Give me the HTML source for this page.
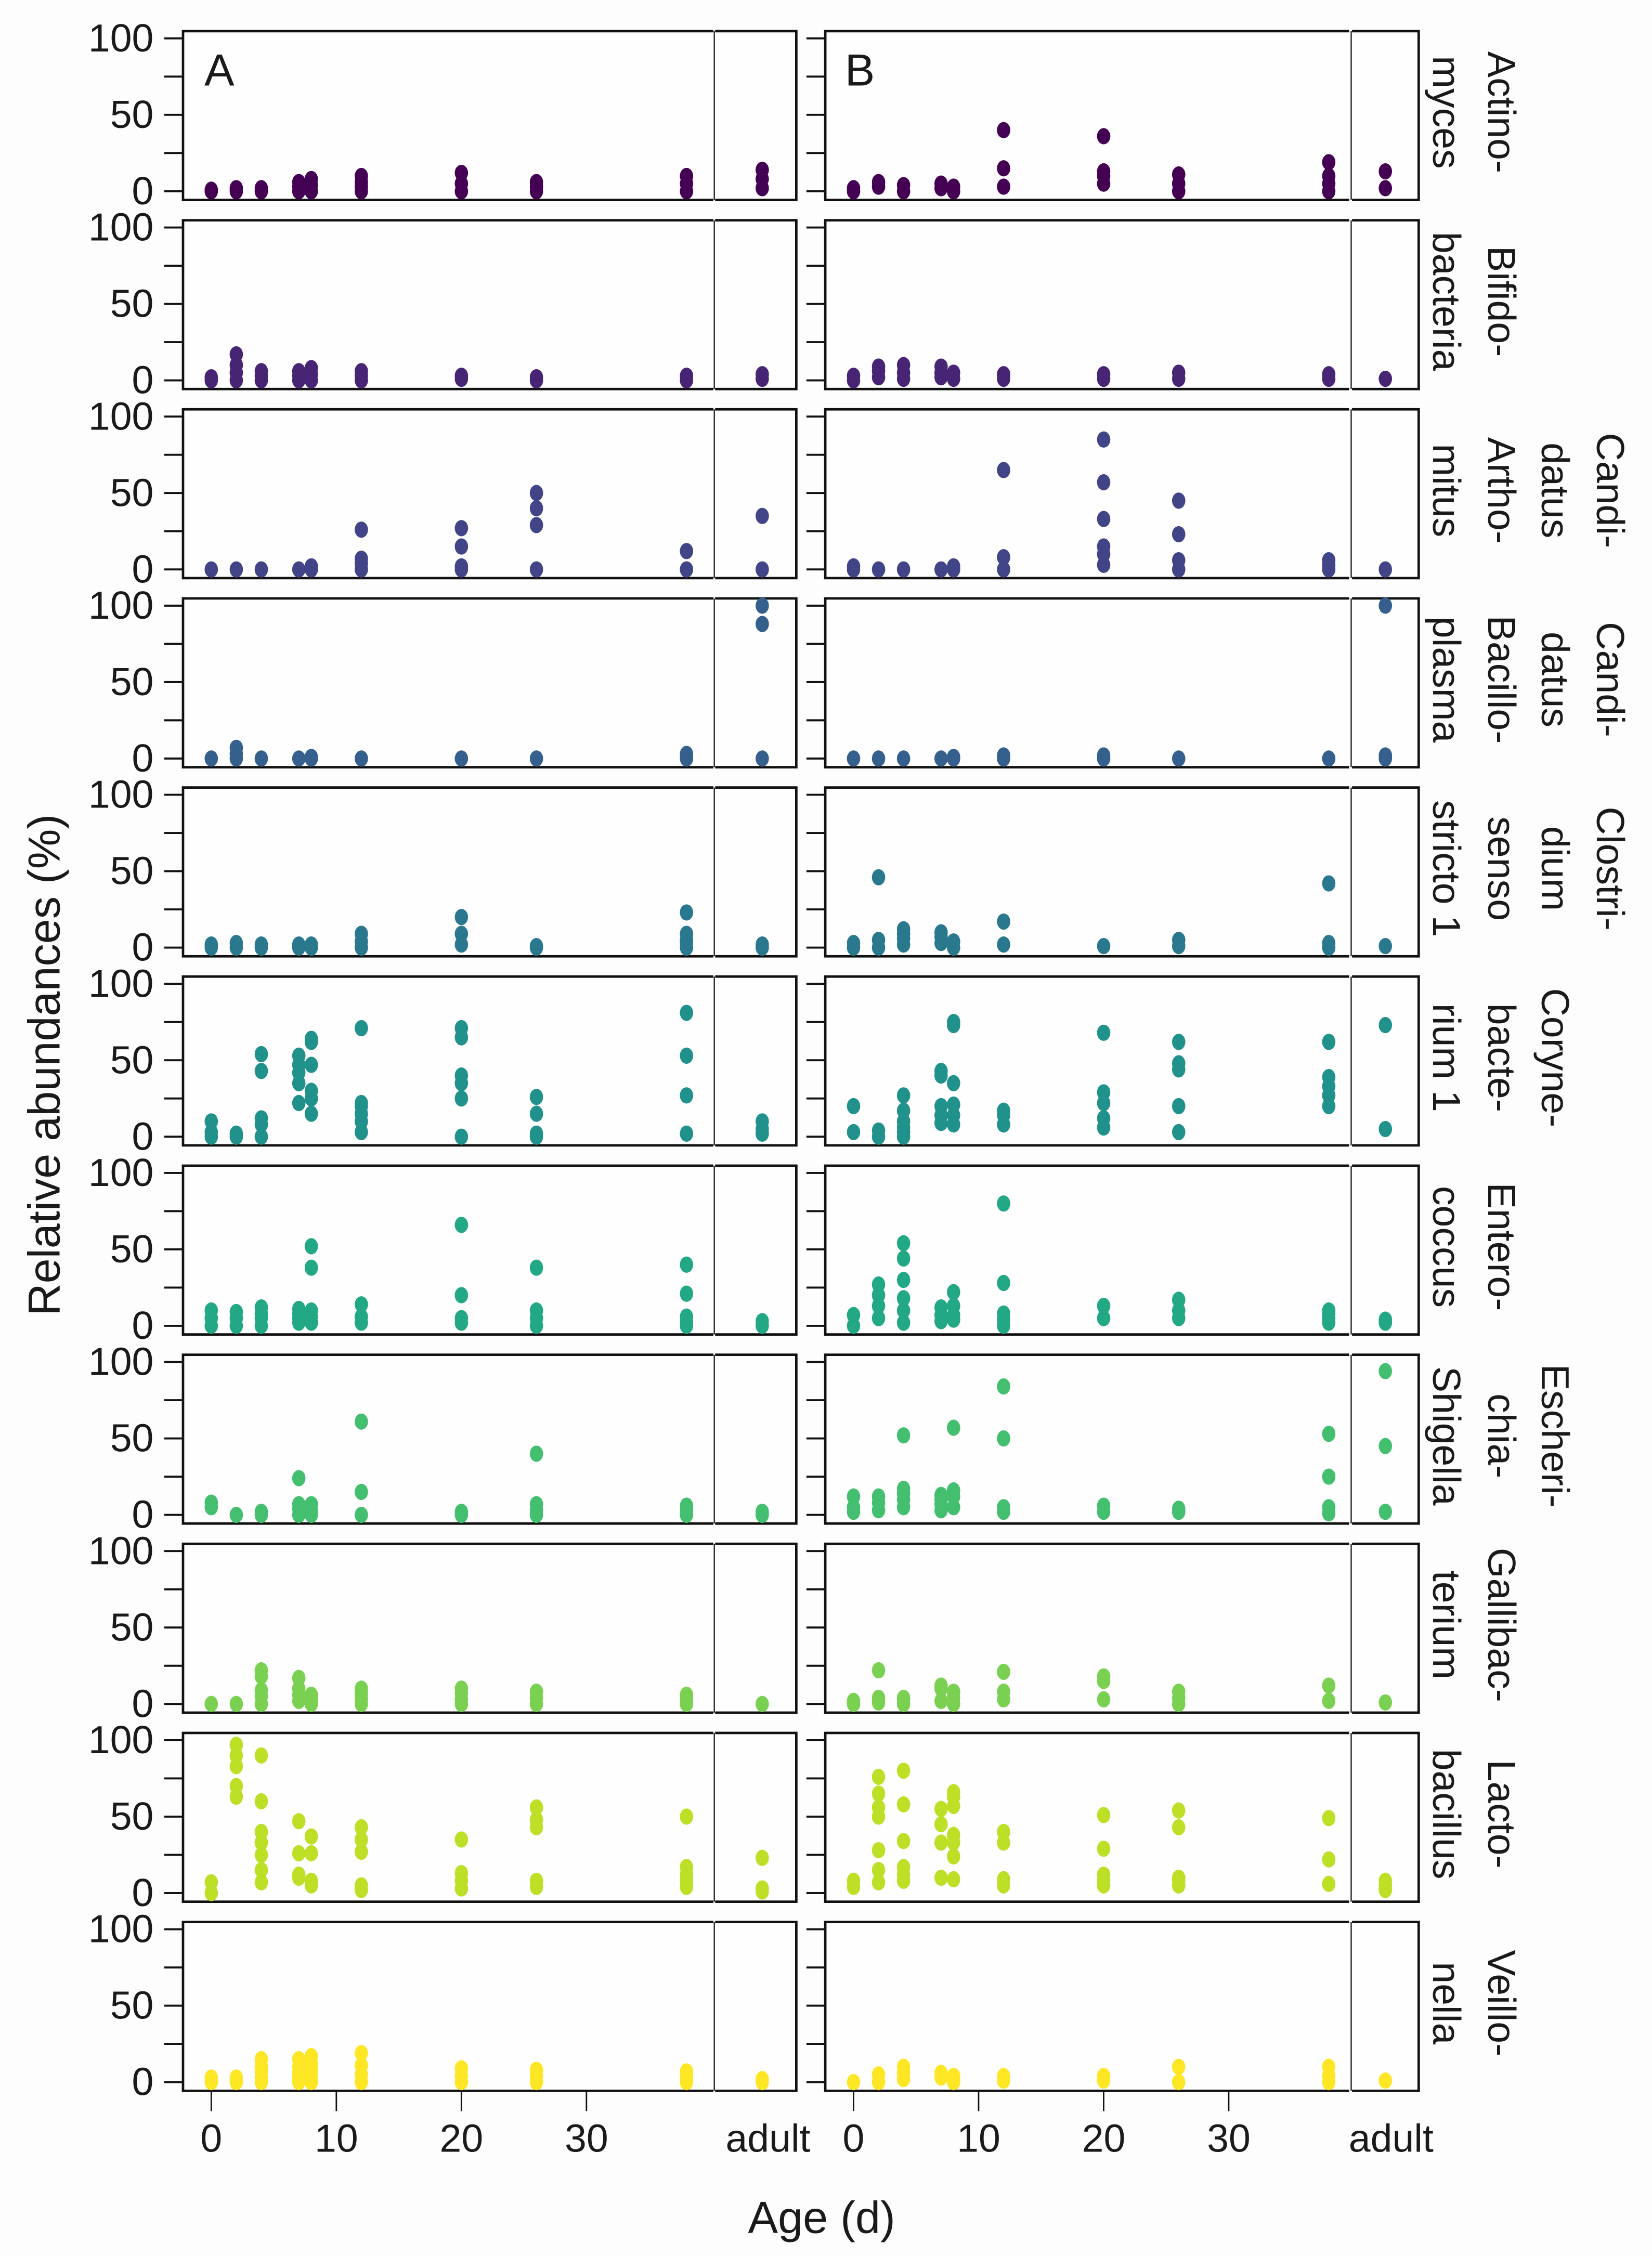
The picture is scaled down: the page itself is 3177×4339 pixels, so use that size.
<!DOCTYPE html>
<html><head><meta charset="utf-8"><title>Relative abundances</title>
<style>
html,body{margin:0;padding:0;background:#fdfdfd;}
svg{display:block;}
text{font-family:"Liberation Sans",sans-serif;fill:#1a1a1a;}
</style></head>
<body>
<svg id="chart" xmlns="http://www.w3.org/2000/svg" width="3177" height="4339" viewBox="0 0 1140 1557" preserveAspectRatio="none">
<rect x="0" y="0" width="1140" height="1557" fill="#fdfdfd"/>
<g id="layer"></g>
</svg>
<script>
// ---- data ----
const dayCats = ["0","2","4","7","8","12","20","26","38","adult"];
const genusNames = ["Actinomyces","Bifidobacteria","Candidatus Arthromitus","Candidatus Bacilloplasma","Clostridium sensu stricto 1","Corynebacterium 1","Enterococcus","Escherichia-Shigella","Gallibacterium","Lactobacillus","Veillonella"];
const genusLabelLines = [
  ["Actino-","myces"],["Bifido-","bacteria"],["Candi-","datus","Artho-","mitus"],
  ["Candi-","datus","Bacillo-","plasma"],["Clostri-","dium","senso","stricto 1"],
  ["Coryne-","bacte-","rium 1"],["Entero-","coccus"],["Escheri-","chia-","Shigella"],
  ["Gallibac-","terium"],["Lacto-","bacillus"],["Veillo-","nella"]];
const genusColors = ["#440154","#482475","#414487","#355f8d","#2a788e","#21918c","#22a884","#44bf70","#7ad151","#bddf26","#fde725"];
const yTicks = [0,50,100];
const yMinorTicks = [25,75];
const xTicks = [0,10,20,30];

// values per day category (same order as dayCats), panel A
const valuesA = [
 [[0,1],[0,2],[0,2],[0,3,6],[0,4,8],[0,3,6,10],[0,5,12],[0,3,6],[0,5,10],[2,8,14]],
 [[0,2],[0,5,10,17],[0,3,6],[0,3,6],[0,4,8],[0,3,6],[1,3],[0,2],[0,3],[1,4]],
 [[0],[0],[0],[0],[0,2],[0,4,7,26],[0,2,15,27],[0,29,40,50],[0,12],[0,35]],
 [[0],[0,3,7],[0],[0],[0,1],[0],[0],[0],[0,3],[0,88,100]],
 [[0,2],[0,3],[0,2],[0,2],[0,2],[0,4,9],[2,9,20],[0,1],[0,3,5,9,23],[0,2]],
 [[0,3,10],[0,2],[0,8,12,43,54],[22,35,42,47,53],[15,25,30,47,62,64],[3,10,15,20,22,71],[0,25,35,40,65,71],[0,2,15,26],[2,27,53,81],[2,5,10]],
 [[0,5,10],[0,5,9],[0,5,8,12],[2,5,8,11],[2,6,10,38,52],[2,6,14],[2,5,20,66],[0,5,10,38],[0,3,6,21,40],[0,3]],
 [[5,8],[0],[0,2],[0,4,7,24],[0,3,7],[0,15,61],[0,2],[0,3,7,40],[0,3,6],[0,2]],
 [[0],[0],[0,5,9,18,22],[2,6,10,17],[0,3,6],[0,3,7,10],[0,3,7,10],[0,4,8],[0,3,6],[0]],
 [[0,7],[63,70,83,90,97],[7,15,25,33,40,60,90],[10,12,26,47],[5,8,26,37],[2,5,27,35,43],[3,8,13,35],[4,8,43,48,56],[4,8,12,17,50],[1,3,23]],
 [[0,3],[0,3],[0,3,7,10,15],[0,3,6,10,15],[0,4,8,12,17],[0,5,11,19],[0,4,9],[0,4,8],[0,3,7],[0,2]]
];
// panel B
const valuesB = [
 [[0,2],[3,6],[0,4],[2,5],[0,3],[3,15,40],[5,10,13,36],[0,5,11],[0,5,10,19],[2,13]],
 [[0,3],[2,6,9],[1,5,10],[2,5,9],[1,5],[1,4],[1,4],[1,5],[1,4],[1]],
 [[0,2],[0],[0],[0],[0,2],[0,8,65],[3,10,15,33,57,85],[0,6,23,45],[0,3,6],[0]],
 [[0],[0],[0],[0],[0,1],[0,2],[0,2],[0],[0],[0,2,100]],
 [[0,3],[0,5,46],[2,6,9,12],[3,7,10],[0,4],[2,17],[1],[1,5],[0,3,42],[1]],
 [[3,20],[0,4],[0,3,6,10,17,27],[9,14,20,40,43],[8,14,21,35,73,75],[8,14,17],[6,12,22,29,68],[3,20,44,48,62],[20,27,33,39,62],[5,73]],
 [[0,7],[5,13,20,27],[2,10,18,30,44,54],[3,7,12],[4,7,13,22],[0,4,8,28,80],[5,13],[5,10,17],[2,5,8,10],[2,4]],
 [[2,5,12],[3,8,12],[5,10,14,17,52],[3,7,10,13],[5,12,16,57],[2,5,50,84],[2,6],[2,4],[1,5,25,53],[2,45,94]],
 [[0,2],[1,4,22],[0,3,4],[2,10,12],[0,4,8],[3,8,21],[3,15,18],[0,4,8],[2,12],[1]],
 [[4,8],[7,15,28,50,56,65,76],[8,12,17,34,58,80],[10,33,45,55],[9,24,33,38,57,63,66],[5,9,33,40],[5,8,12,29,51],[5,8,10,43,54],[6,22,49],[2,5,8]],
 [[0],[0,5],[2,6,10],[3,6],[0,2,4],[1,4],[1,4],[0,10],[0,4,10],[1]]
];

// ---- layout ----
const NS = "http://www.w3.org/2000/svg";
const layer = document.getElementById("layer");
const sides = [
  {key:"A", left:126.3, right:492.3, adL:493.5, adR:549.5, zero:145.8, adC:526, vals:valuesA, labels:true},
  {key:"B", left:569.5, right:931, adL:933, adR:979, zero:589, adC:956, vals:valuesB, labels:false}
];
const perDay = 8.63;
function panelTop(i){ return 21.5 + 130.5*i; }
function yScale(i, v){ const t = panelTop(i); return t + 110.5 - v*(105.5/100); }
function xScale(side, cat){ return cat === "adult" ? side.adC : side.zero + Number(cat)*perDay; }
function mk(tag, attrs, parent){
  const el = document.createElementNS(NS, tag);
  for (const k in attrs) el.setAttribute(k, attrs[k]);
  (parent||layer).appendChild(el);
  return el;
}

genusNames.forEach((g, i) => {
  const top = panelTop(i), bot = top + 116.5;
  sides.forEach(s => {
    const grp = mk("g", {});
    
    
    const r1 = mk("path", {d:"M" + s.right + "," + top + " H" + s.left + " V" + bot + " H" + s.right, fill:"#fefefe", stroke:"#111", "stroke-width":1.7}, grp);
    
    
    const r2 = mk("path", {d:"M" + s.adL + "," + top + " H" + s.adR + " V" + bot + " H" + s.adL, fill:"#fefefe", stroke:"#111", "stroke-width":1.7}, grp);
    
    
    const sep = mk("line", {x1:s.adL-0.6, x2:s.adL-0.6, y1:top, y2:bot, stroke:"#111", "stroke-width":0.8}, grp);
    
    
    // y ticks
    yTicks.concat(yMinorTicks).forEach(t => {
      const y = yScale(i, t);
      const tk = mk("line", {x1:s.left-13, x2:s.left, y1:y, y2:y, stroke:"#111", "stroke-width":1.4}, grp);
      
      
    });
    if (s.labels) {
      yTicks.forEach(t => {
        const tx = mk("text", {x:106, y:yScale(i,t)+9, "text-anchor":"end", "font-size":27}, grp);
        tx.textContent = String(t);
        
        
      });
    }
    // points
    s.vals[i].forEach((vs, di) => {
      vs.forEach(v => {
        const p = mk("ellipse", {cx:xScale(s, dayCats[di]), cy:yScale(i, v), rx:4.6, ry:5.6, fill:genusColors[i]}, grp);
        
        
      });
    });
  });
  // genus label (rotated clockwise); first line in rightmost used column, centred
  const lines = genusLabelLines[i];
  const cols = [1102, 1064, 1027, 989];
  const n = lines.length;
  lines.forEach((ln, li) => {
    const cx = cols[4 - n + li];
    const ty = top + 56;
    const tx = mk("text", {x:0, y:0, "font-size":27, "text-anchor":"middle", transform:"translate(" + cx + "," + ty + ") rotate(90)"});
    tx.textContent = ln;
    
    
  });
});

// panel letters
[["A",141],["B",583]].forEach(([t,x]) => {
  const el = mk("text", {x:x, y:59, "font-size":31});
  el.textContent = t;
  
  
});

// x axes
const bottom = panelTop(10) + 116.5;
sides.forEach(s => {
  xTicks.forEach(t => {
    const x = xScale(s, String(t));
    const tk = mk("line", {x1:x, x2:x, y1:bottom, y2:bottom+14, stroke:"#111", "stroke-width":1});
    
    
    const lb = mk("text", {x:x, y:1485, "text-anchor":"middle", "font-size":27});
    lb.textContent = String(t);
    
    
  });
  const ad = mk("text", {x:s.adC+4, y:1485, "text-anchor":"middle", "font-size":27});
  ad.textContent = "adult";
  
  
});

const xt = mk("text", {x:567, y:1541, "text-anchor":"middle", "font-size":31});
xt.textContent = "Age (d)";


const yt = mk("text", {x:0, y:0, "text-anchor":"middle", "font-size":31, transform:"translate(41,735) rotate(-90)"});
yt.textContent = "Relative abundances (%)";


</script>
</body></html>
